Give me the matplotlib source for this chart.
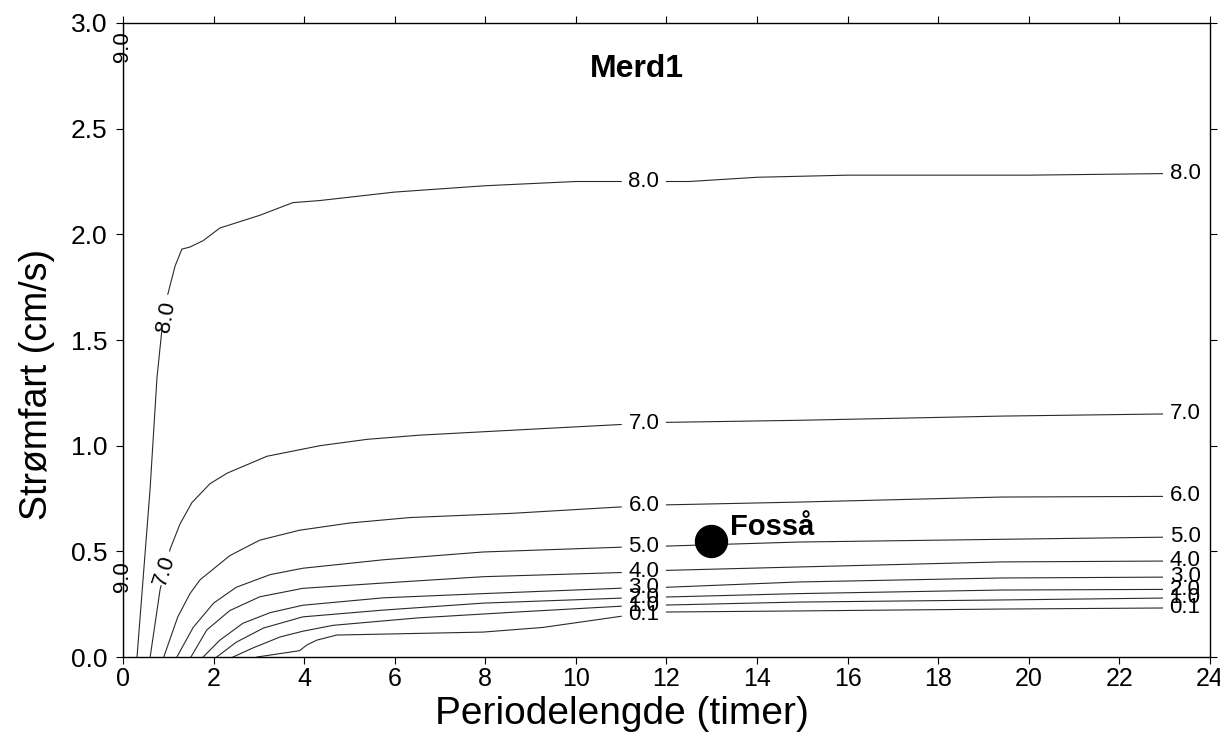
import numpy as np
import matplotlib.pyplot as plt

plt.rcParams['font.family'] = ['Liberation Sans', 'DejaVu Sans']

# Contour lines: (x = period length in hours, y = current speed in cm/s)
level_names = ["9.0", "8.0", "7.0", "6.0", "5.0", "4.0", "3.0", "2.0", "1.0", "0.1"]

x_90 = [0.0, 0.0]
y_90 = [0.0, 3.0]

x_80 = [0.31, 0.6, 0.75, 0.86, 0.97, 1.15, 1.3, 1.48, 1.77, 2.14, 3.02, 3.75, 4.35, 6.0, 8.0, 10.0, 11.2, 12.5, 14.0, 16.0, 20.0, 24.0]
y_80 = [0.0, 0.8, 1.32, 1.55, 1.70, 1.85, 1.93, 1.94, 1.97, 2.03, 2.09, 2.15, 2.16, 2.20, 2.23, 2.25, 2.25, 2.25, 2.27, 2.28, 2.28, 2.29]

x_70 = [0.6, 0.82, 1.04, 1.26, 1.52, 1.92, 2.3, 3.18, 4.35, 5.39, 6.56, 9.2, 10.97, 11.9, 14.9, 19.4, 22.96, 24.0]
y_70 = [0.0, 0.32, 0.51, 0.63, 0.73, 0.82, 0.87, 0.95, 1.0, 1.03, 1.05, 1.08, 1.10, 1.11, 1.12, 1.14, 1.15, 1.15]

x_60 = [0.9, 1.21, 1.48, 1.70, 2.36, 3.02, 3.9, 5.0, 6.34, 8.6, 10.97, 12.0, 14.9, 19.4, 22.96, 24.0]
y_60 = [0.0, 0.19, 0.30, 0.365, 0.48, 0.553, 0.60, 0.634, 0.66, 0.68, 0.71, 0.72, 0.733, 0.757, 0.76, 0.765]

x_50 = [1.19, 1.55, 2.0, 2.5, 3.25, 3.97, 5.74, 7.95, 11.04, 12.0, 14.9, 19.4, 22.96, 24.0]
y_50 = [0.0, 0.14, 0.255, 0.33, 0.39, 0.42, 0.46, 0.497, 0.52, 0.525, 0.544, 0.557, 0.567, 0.57]

x_40 = [1.5, 1.85, 2.36, 3.02, 3.97, 5.74, 7.95, 11.04, 12.0, 14.9, 19.4, 22.96, 24.0]
y_40 = [0.0, 0.128, 0.22, 0.285, 0.325, 0.35, 0.38, 0.40, 0.41, 0.426, 0.45, 0.454, 0.456]

x_30 = [1.77, 2.14, 2.65, 3.25, 3.97, 5.74, 7.95, 11.04, 12.0, 14.9, 19.4, 22.96, 24.0]
y_30 = [0.0, 0.08, 0.16, 0.21, 0.245, 0.28, 0.30, 0.326, 0.33, 0.355, 0.374, 0.378, 0.38]

x_20 = [2.07, 2.5, 3.1, 3.97, 5.74, 7.95, 11.04, 12.0, 14.9, 19.4, 22.96, 24.0]
y_20 = [0.0, 0.07, 0.137, 0.19, 0.222, 0.255, 0.279, 0.284, 0.30, 0.317, 0.32, 0.322]

x_10 = [2.43, 2.87, 3.47, 3.97, 4.64, 6.5, 8.7, 11.04, 12.0, 14.9, 19.4, 22.96, 24.0]
y_10 = [0.0, 0.043, 0.095, 0.122, 0.15, 0.185, 0.213, 0.241, 0.246, 0.26, 0.27, 0.279, 0.28]

x_01 = [2.96, 3.9, 4.06, 4.28, 4.72, 7.95, 9.27, 11.04, 12.0, 14.9, 19.4, 22.96, 24.0]
y_01 = [0.0, 0.03, 0.057, 0.08, 0.104, 0.118, 0.14, 0.194, 0.213, 0.218, 0.227, 0.232, 0.233]

line_x = [x_90, x_80, x_70, x_60, x_50, x_40, x_30, x_20, x_10, x_01]
line_y = [y_90, y_80, y_70, y_60, y_50, y_40, y_30, y_20, y_10, y_01]

# inline label places
mid_label_x = 11.5
right_label_x = 23.45
mid_gap = (11.0, 12.0)
right_gap = (22.95, 24.0)
steep_labels = {"8.0": (0.95, 1.61, 80, (0.87, 0.99)),
                "7.0": (0.92, 0.41, 72, (0.84, 1.03))}
left_labels_90 = [(0.0, 2.89), (0.0, 0.38)]

# site marker
site_name = "Fosså"
site_x = 12.98
site_y = 0.549


def split_line(xs, ys, gaps):
    """Cut a polyline into pieces, leaving holes for the labels."""
    xs = np.asarray(xs, dtype=float)
    ys = np.asarray(ys, dtype=float)
    edges = [xs[0]]
    for a, b in sorted(gaps):
        edges += [a, b]
    edges.append(xs[-1])
    pieces = []
    for a, b in zip(edges[0::2], edges[1::2]):
        if b <= a:
            continue
        inner = (xs > a) & (xs < b)
        px = np.concatenate([[a], xs[inner], [b]])
        pieces.append((px, np.interp(px, xs, ys)))
    return pieces


fig = plt.figure(figsize=(12.2, 7.49), dpi=100)
ax = fig.add_axes([0.1008, 0.1228, 0.891, 0.8465])

line_color = "#2a2a2a"
lab_size = 16

for name, xs, ys in zip(level_names, line_x, line_y):
    if name == "9.0":
        ax.plot(xs, ys, color=line_color, lw=0.8)
        for lx, ly in left_labels_90:
            ax.text(lx, ly, name, rotation=90, ha="center", va="center",
                    fontsize=lab_size, color="black")
        continue
    gaps = [mid_gap, right_gap]
    if name in steep_labels:
        gaps.append(steep_labels[name][3])
    for px, py in split_line(xs, ys, gaps):
        ax.plot(px, py, color=line_color, lw=0.8)
    ax.text(mid_label_x, np.interp(mid_label_x, xs, ys), name, ha="center",
            va="center", fontsize=lab_size, color="black")
    ax.text(right_label_x, np.interp(right_label_x, xs, ys), name, ha="center",
            va="center", fontsize=lab_size, color="black")
    if name in steep_labels:
        sx, sy, rot, _ = steep_labels[name]
        ax.text(sx, sy, name, rotation=rot, ha="center", va="center",
                fontsize=lab_size, color="black")

ax.plot(site_x, site_y, "o", ms=23, color="black")
ax.text(site_x + 0.42, site_y + 0.066, site_name, fontsize=21, fontweight="bold",
        ha="left", va="center")

ax.text(11.35, 2.78, "Merd1", fontsize=23, fontweight="bold", ha="center", va="center")

ax.set_xlim(0, 24)
ax.set_ylim(0, 3.0)
ax.set_xticks(np.arange(0, 25, 2))
ax.set_yticks(np.arange(0, 3.01, 0.5))
ax.set_yticklabels([f"{v:.1f}" for v in np.arange(0, 3.01, 0.5)])
ax.tick_params(direction="out", length=5, width=0.8, labelsize=19,
               top=True, right=True)
ax.tick_params(axis="x", pad=2, labelsize=18)
ax.tick_params(axis="y", pad=6)
for s in ax.spines.values():
    s.set_linewidth(1.0)

ax.set_xlabel("Periodelengde (timer)", fontsize=28)
ax.set_ylabel("Strømfart (cm/s)", fontsize=27)
ax.xaxis.set_label_coords(0.459, -0.09)
ax.yaxis.set_label_coords(-0.079, 0.43)
ax.xaxis.label.set_va("center")
ax.yaxis.label.set_va("center")

fig.savefig("out.png", dpi=100)
